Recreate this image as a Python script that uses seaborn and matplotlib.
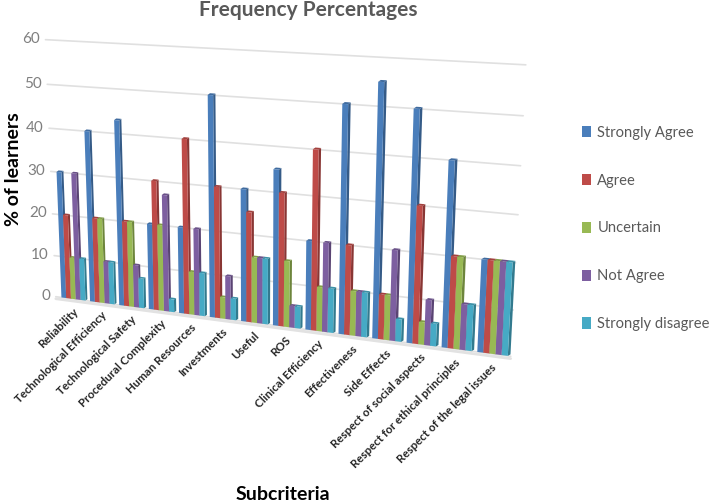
import numpy as np
import pandas as pd
import matplotlib
matplotlib.use('Agg')
import matplotlib.pyplot as plt
import seaborn as sns
from matplotlib.colors import to_rgb
from matplotlib.patches import Polygon
from matplotlib.transforms import Transform

subcriteria = ['Reliability', 'Technological Efficiency', 'Technological Safety',
               'Procedural Complexity', 'Human Resources', 'Investments', 'Useful', 'ROS',
               'Clinical Efficiency', 'Effectiveness', 'Side Effects',
               'Respect of social aspects', 'Respect for ethical principles',
               'Respect of the legal issues']
strongly_agree = [30, 40, 43, 20, 20, 50, 30, 35, 20, 50, 55, 50, 40, 20]
agree = [20, 20, 20, 30, 40, 30, 25, 30, 40, 20, 10, 30, 20, 20]
uncertain = [10, 20, 20, 20, 10, 5, 15, 15, 10, 10, 10, 5, 20, 20]
not_agree = [30, 10, 10, 27, 20, 10, 15, 5, 20, 10, 20, 10, 10, 20]
strongly_disagree = [10, 10, 7, 3, 10, 5, 15, 5, 10, 10, 5, 5, 10, 20]
y_ticks = [0, 10, 20, 30, 40, 50, 60]

series = {'Strongly Agree': strongly_agree, 'Agree': agree, 'Uncertain': uncertain,
          'Not Agree': not_agree, 'Strongly disagree': strongly_disagree}
colors = ['#4a7ebb', '#be4b48', '#98b954', '#7d5fa0', '#46aac5']

W, H = 709, 504
FONT = 'Lato'
GREY = '#595959'


class Perspective(Transform):
    """maps data (category, value) on to the slanted chart plane, in display pixels"""
    input_dims = 2
    output_dims = 2

    def __init__(self, src, dst):
        super().__init__()
        rows, rhs = [], []
        for (x, y), (u, v) in zip(src, dst):
            rows.append([x, y, 1, 0, 0, 0, -u * x, -u * y])
            rows.append([0, 0, 0, x, y, 1, -v * x, -v * y])
            rhs += [u, v]
        self.m = np.append(np.linalg.solve(np.array(rows, float), np.array(rhs, float)), 1).reshape(3, 3)

    def transform_non_affine(self, values):
        pts = np.column_stack([values, np.ones(len(values))]) @ self.m.T
        out = pts[:, :2] / pts[:, 2:]
        out[:, 1] = H - out[:, 1]
        return out


persp = Perspective([(-0.4, 0), (12.6, 0), (-0.4, 60), (12.6, 60)],
                    [(62, 297.5), (478, 352), (52, 40), (491, 63)])

sns.set_style('white')
fig = plt.figure(figsize=(W / 100, H / 100), dpi=100)
ax = fig.add_axes([0, 0, 1, 1])

df = pd.DataFrame({'Subcriteria': subcriteria, **series}).melt(
    id_vars='Subcriteria', var_name='Response', value_name='Percent')
sns.barplot(data=df, x='Subcriteria', y='Percent', hue='Response', palette=colors,
            width=0.84, gap=0, saturation=1, linewidth=0, edgecolor='none', ax=ax)

# legend first, the handles must keep their normal transform
handles, labels = ax.get_legend_handles_labels()
ax.legend(handles, labels, loc='center left', bbox_to_anchor=(569 / W, 1 - 228.5 / H),
          bbox_transform=fig.transFigure, frameon=False, handlelength=0.62, handleheight=0.8,
          handletextpad=0.4, labelspacing=2.3, labelcolor=GREY,
          prop={'family': FONT, 'size': 10.6})
ax.axis('off')

# depth faces for each bar, then the front from seaborn
DX, DY = 0.07, 0.4
for container, color in zip(ax.containers, colors):
    side = np.array(to_rgb(color)) * 0.72
    top = np.array(to_rgb(color)) * 0.85
    for bar in container:
        x0, x1, h = bar.get_x(), bar.get_x() + bar.get_width(), bar.get_height()
        z = 5 + x0
        bar.set_transform(persp)
        bar.set_clip_on(False)
        bar.set_zorder(z + 0.001)
        ax.add_patch(Polygon([(x1, 0), (x1, h), (x1 + DX, h + DY), (x1 + DX, DY)], closed=True,
                             facecolor=side, edgecolor='none', transform=persp, clip_on=False, zorder=z))
        ax.add_patch(Polygon([(x0, h), (x1, h), (x1 + DX, h + DY), (x0 + DX, h + DY)], closed=True,
                             facecolor=top, edgecolor='none', transform=persp, clip_on=False, zorder=z))

# wall lines and floor edge
for level in y_ticks:
    ax.plot([-0.62, 13.5], [level, level], color='#e0e0e0', lw=1.2, transform=persp,
            clip_on=False, zorder=1, scalex=False, scaley=False)
    ax.text(-0.82, level, str(level), transform=persp, ha='right', va='center',
            family=FONT, fontsize=11, color='#7f7f7f')
ax.plot([-0.62, 13.5], [-0.5, -0.5], color='#e2e2e2', lw=2, transform=persp,
        clip_on=False, zorder=1, scalex=False, scaley=False)

for i, name in enumerate(subcriteria):
    ax.text(i - 0.04, -1.7, name, transform=persp, rotation=45, ha='right', va='top',
            rotation_mode='anchor', family=FONT, fontsize=8.3, weight='bold', color='#262626')

fig.text(308 / W, 1 - 10 / H, 'Frequency Percentages', ha='center', va='center',
         family=FONT, fontsize=15, weight='bold', color=GREY)
fig.text(14 / W, 1 - 169 / H, '% of learners', ha='center', va='center', rotation=90,
         family=FONT, fontsize=14, weight='bold', color='black')
fig.text(283 / W, 1 - 495 / H, 'Subcriteria', ha='center', va='center',
         family=FONT, fontsize=14, weight='bold', color='black')

fig.savefig('out.png', dpi=100)
